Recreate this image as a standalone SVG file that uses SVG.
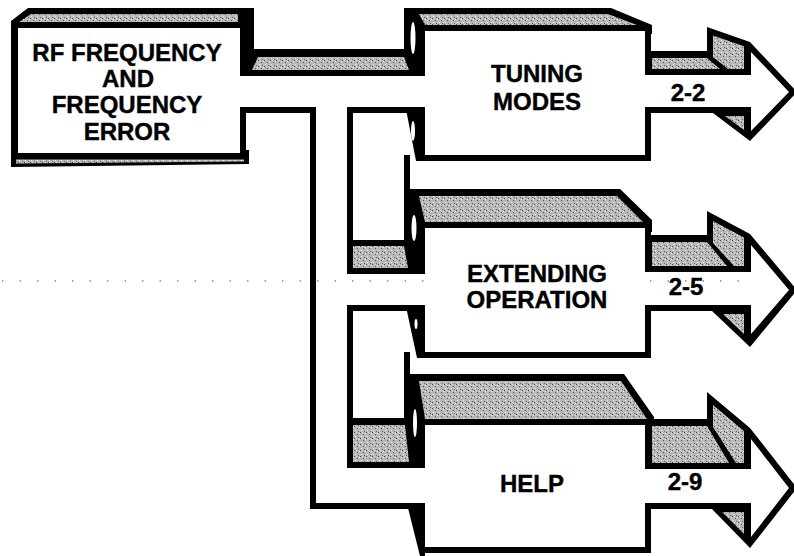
<svg xmlns="http://www.w3.org/2000/svg" width="794" height="556" viewBox="0 0 794 556">
<defs>
<pattern id="stip" width="6" height="6" patternUnits="userSpaceOnUse">
<rect width="6" height="6" fill="#b8b8b8"/>
<rect x="0" y="0" width="1" height="1" fill="#444"/>
<rect x="3" y="2" width="1" height="1" fill="#555"/>
<rect x="1" y="4" width="1" height="1" fill="#f4f4f4"/>
<rect x="4" y="5" width="1" height="1" fill="#666"/>
<rect x="5" y="1" width="1" height="1" fill="#eee"/>
<rect x="2" y="0" width="1" height="1" fill="#ddd"/>
</pattern>
<style>
.blk{fill:#000}
.gr{fill:url(#stip)}
.face{fill:#fff;stroke:#000;stroke-width:6}
.wh{fill:#fff}
.wall{fill:none;stroke:#000;stroke-width:6;stroke-linejoin:miter;stroke-linecap:square}
.t{font-family:"Liberation Sans",Arial,Helvetica,sans-serif;font-weight:bold;font-size:24px;text-anchor:middle;fill:#000;stroke:#000;stroke-width:0.4}
.dots{stroke:#8a8a8a;stroke-width:1.3;stroke-dasharray:1.5 16;fill:none}
</style>
</defs>
<rect width="794" height="556" fill="#fff"/>

<g id="node-rf">
<polygon class="blk" points="11,21 28,8 254,8 254,80 240,80 240,150 249,150 249,164 11,167"/>
<polygon class="gr" points="19,22 31,14 238,14 238,22"/>
<polygon class="gr" points="16,159.5 244,159.5 244,161.5 16,163.5"/>
<rect class="face" x="15" y="25" width="228" height="131"/>
<text class="t" x="127" y="61">RF FREQUENCY</text>
<text class="t" x="128" y="87">AND</text>
<text class="t" x="127" y="113">FREQUENCY</text>
<text class="t" x="127" y="140">ERROR</text>
</g>

<g id="node-tuning">
<polygon class="blk" points="404,8 611,8 652,25 652,34 425,34 425,76 404,76"/>
<polygon class="gr" points="419,14 608,14 637,25 425,25"/>
<polygon class="blk" points="405,104 425,104 425,161 416,161"/>
<polygon class="blk" points="645,51 707,51 707,27 750,42 797,92 750,141 713,113 645,113"/>
<polygon class="gr" points="652,58 707,58 720,69 652,69"/>
<polygon class="gr" points="713,35.5 744,46.3 744,69 728,69 713,57"/>
<polygon class="gr" points="725,116 744,116 744,130"/>
<rect class="face" x="422" y="28" width="226" height="130"/>
<polygon class="wh" points="640,75 751,75 751,52 789,92 751,131 751,107 640,107"/>
<ellipse class="wh" cx="413" cy="38" rx="2.5" ry="16"/>
<ellipse class="wh" cx="413" cy="131" rx="2" ry="10"/>
<text class="t" x="537" y="82">TUNING</text>
<text class="t" x="537" y="110">MODES</text>
<text class="t" x="688" y="101">2-2</text>
</g>

<g id="node-extending">
<polygon class="blk" points="404,189 620,189 652,220 652,232 425,232 425,274 404,274"/>
<polygon class="gr" points="419,196 617,196 643,222 425,222"/>
<polygon class="blk" points="405,302 425,302 425,358 417,358"/>
<polygon class="blk" points="645,235 707,235 707,211 750,234 797,290 750,347 712,311 645,311"/>
<polygon class="gr" points="652,242 707,242 727,266 652,266"/>
<polygon class="gr" points="713,221 744,237.6 744,266 734,266 713,243"/>
<polygon class="gr" points="723,314 744,314 744,334"/>
<rect class="face" x="422" y="225" width="226" height="130"/>
<polygon class="wh" points="640,272 751,272 751,245 789,290 751,334 751,305 640,305"/>
<ellipse class="wh" cx="414" cy="228" rx="2.5" ry="13"/>
<ellipse class="wh" cx="416" cy="324" rx="1.5" ry="5"/>
<text class="t" x="537" y="282">EXTENDING</text>
<text class="t" x="537" y="308">OPERATION</text>
<text class="t" x="686" y="295">2-5</text>
</g>

<g id="node-help">
<polygon class="blk" points="404,374 624,374 654,417 654,428 425,428 425,468 404,468"/>
<polygon class="gr" points="419,381 621,381 647,419 425,419"/>
<polygon class="blk" points="406,500 425,500 425,556 420,556"/>
<polygon class="blk" points="645,419 707,419 707,392 750,428 797,488 750,548 712,509 645,509"/>
<polygon class="gr" points="652,426 707,426 729,463 652,463"/>
<polygon class="gr" points="713,405 744,431 744,463 736,463 713,427"/>
<polygon class="gr" points="722,512 744,512 744,534"/>
<rect class="face" x="422" y="422" width="226" height="128"/>
<polygon class="wh" points="640,469 751,469 751,439 789,488 751,537 751,503 640,503"/>
<ellipse class="wh" cx="415" cy="423" rx="2" ry="14"/>
<text class="t" x="532" y="492">HELP</text>
<text class="t" x="685" y="490">2-9</text>
</g>

<g id="connectors">
<rect class="blk" x="246" y="49" width="162" height="27"/>
<polygon class="gr" points="258,57 404,57 409,70 252,70"/>
<polygon class="blk" points="347,240 409,240 413,274 347,274"/>
<polygon class="gr" points="353,246 404,246 408,268 353,268"/>
<polygon class="blk" points="347,418 409,418 414,468 347,468"/>
<polygon class="gr" points="353,425 405,425 409,462 353,462"/>
<path class="wall" d="M243 110 H313 V506 H420"/>
<path class="wall" d="M420 110 H350 V243"/>
<path class="wall" d="M420 308 H350 V420"/>
<path class="wall" d="M407 158 V192"/>
<path class="wall" d="M407 355 V378"/>
<path class="wh" d="M238 76 H430 V107 H347 V274 H430 V305 H347 V468 H430 V503 H316 V107 H238 Z"/>
</g>

<g id="scan-dots">
<line class="dots" x1="2" y1="281" x2="432" y2="281"/>
<line class="dots" x1="650" y1="281" x2="745" y2="281"/>
</g>
</svg>
